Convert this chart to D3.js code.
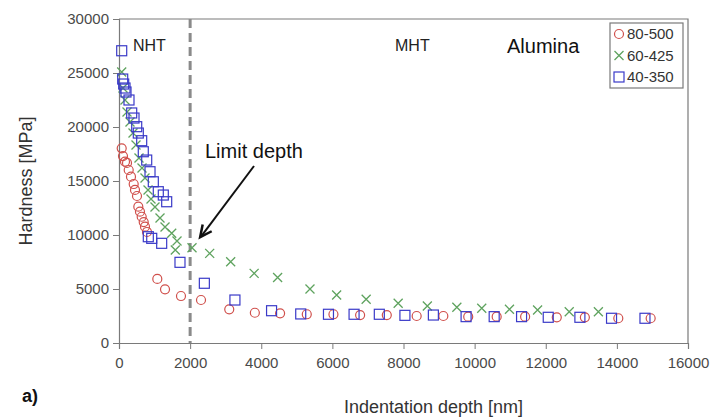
<!DOCTYPE html>
<html>
<head>
<meta charset="utf-8">
<script src="https://cdn.jsdelivr.net/npm/d3@7"></script>
<style>
  body { margin: 0; background: #fff; }
  svg text { font-family: "Liberation Sans", Arial, sans-serif; }
</style>
</head>
<body>
<div id="plot"></div>
<script>
// series 80-500 (circles)
var depth80 = [76, 112, 169, 225, 273, 337, 413, 450, 506, 543, 590, 638, 695, 731, 787,
  1077, 1294, 1743, 2306, 3100, 3820, 4530, 5280, 6030, 6780, 7530, 8370, 9120,
  9820, 10620, 11420, 12310, 13100, 14040, 14950];
var hard80 = [18030, 17310, 16790, 16670, 16020, 15400, 14720, 14170, 13610, 12620, 12160, 11690, 11200, 10770, 10280,
  5930, 4970, 4350, 3980, 3120, 2800, 2750, 2660, 2660, 2590, 2590, 2500, 2500,
  2440, 2440, 2440, 2380, 2380, 2290, 2290];

// series 60-425 (crosses)
var depth60 = [76, 112, 169, 225, 309, 394, 478, 562, 647, 731, 816, 900, 1012, 1153, 1294,
  1482, 1631, 1583, 2053, 2550, 3140, 3800, 4460, 5370, 6120, 6950, 7850, 8670,
  9500, 10200, 10980, 11770, 12660, 13480];
var hard60 = [25090, 23610, 22500, 21390, 20460, 19440, 18330, 17130, 16200, 15280, 14170, 13330, 12590, 11570, 10740,
  10160, 9440, 8610, 8820, 8300, 7530, 6450, 6060, 5000, 4440, 4050, 3680, 3430,
  3310, 3210, 3120, 3060, 2900, 2900];

// series 40-350 (squares)
var depth40 = [76, 104, 132, 169, 197, 281, 357, 422, 498, 543, 638, 683, 779, 872, 965, 1105, 1246, 1341,
  824, 920, 1200, 1715, 2400, 3260, 4290, 5110, 5890, 6610, 7320, 8040, 8840,
  9760, 10550, 11320, 12070, 12960, 13850, 14790];
var hard40 = [27060, 24440, 23980, 23610, 23240, 22500, 21300, 20830, 20030, 19440, 18730, 17710, 16940, 15860, 14930, 14010, 13700, 13080,
  9840, 9690, 9230, 7470, 5530, 3980, 2990, 2690, 2660, 2660, 2660, 2560, 2590,
  2440, 2440, 2440, 2380, 2380, 2290, 2290];

var seriesNames = ["80-500", "60-425", "40-350"];
var xTicks = [0, 2000, 4000, 6000, 8000, 10000, 12000, 14000, 16000];
var yTicks = [0, 5000, 10000, 15000, 20000, 25000, 30000];
var limitDepth = 2000;

var margin = { left: 119, right: 28, top: 19, bottom: 76 };
var W = 716, H = 419;
var w = W - margin.left - margin.right;
var h = H - margin.top - margin.bottom;

var x = d3.scaleLinear().domain([0, 16000]).range([0, w]);
var y = d3.scaleLinear().domain([0, 30000]).range([h, 0]);

var svg = d3.select("#plot").append("svg")
  .attr("width", W).attr("height", H);
var g = svg.append("g")
  .attr("transform", "translate(" + margin.left + "," + margin.top + ")");

var axisCol = "#7a7a7a";

// frame top + right
g.append("path")
  .attr("d", "M0,0H" + w + "V" + h)
  .attr("fill", "none").attr("stroke", axisCol).attr("stroke-width", 1.2);

// X axis
var xa = g.append("g").attr("transform", "translate(0," + h + ")")
  .call(d3.axisBottom(x).tickValues(xTicks).tickSize(6).tickPadding(8).tickFormat(d3.format("d")));
// Y axis
var ya = g.append("g")
  .call(d3.axisLeft(y).tickValues(yTicks).tickSize(6).tickPadding(4).tickFormat(d3.format("d")));

[xa, ya].forEach(function(a) {
  a.select(".domain").attr("stroke", axisCol).attr("stroke-width", 1.2);
  a.selectAll(".tick line").attr("stroke", axisCol);
  a.selectAll(".tick text").attr("fill", "#4a4a4a").style("font-size", "15px");
});

// limit depth dashed line
g.append("line")
  .attr("x1", x(limitDepth)).attr("x2", x(limitDepth))
  .attr("y1", 0).attr("y2", h)
  .attr("stroke", "#8a8a8a").attr("stroke-width", 3)
  .attr("stroke-dasharray", "9,5");

// markers
var red = "#d0504c", green = "#5fa35f", blue = "#3a3ac8";

g.selectAll(".c80").data(d3.range(depth80.length)).enter().append("circle")
  .attr("cx", function(i) { return x(depth80[i]); })
  .attr("cy", function(i) { return y(hard80[i]); })
  .attr("r", 4.5).attr("fill", "none").attr("stroke", red).attr("stroke-width", 1.2);

g.selectAll(".c60").data(d3.range(depth60.length)).enter().append("path")
  .attr("transform", function(i) { return "translate(" + x(depth60[i]) + "," + y(hard60[i]) + ")"; })
  .attr("d", "M-4.5,-4.5L4.5,4.5M-4.5,4.5L4.5,-4.5")
  .attr("stroke", green).attr("stroke-width", 1.3).attr("fill", "none");

g.selectAll(".c40").data(d3.range(depth40.length)).enter().append("rect")
  .attr("x", function(i) { return x(depth40[i]) - 5; })
  .attr("y", function(i) { return y(hard40[i]) - 5; })
  .attr("width", 10).attr("height", 10)
  .attr("fill", "none").attr("stroke", blue).attr("stroke-width", 1.2);

// region labels
g.append("text").attr("x", 14).attr("y", 32).text("NHT")
  .style("font-size", "16px").attr("fill", "#222");
g.append("text").attr("x", 276).attr("y", 32).text("MHT")
  .style("font-size", "16px").attr("fill", "#222");
g.append("text").attr("x", 388).attr("y", 34).text("Alumina")
  .style("font-size", "20px").attr("fill", "#111");

// limit depth annotation
g.append("text").attr("x", 86).attr("y", 139).text("Limit depth")
  .style("font-size", "20px").attr("fill", "#111");
var tipX = x(limitDepth) + 10, tipY = y(9800);
var sx = 135, sy = 147;
g.append("line").attr("x1", sx).attr("y1", sy).attr("x2", tipX + 2).attr("y2", tipY - 2)
  .attr("stroke", "#111").attr("stroke-width", 2);
var ang = Math.atan2(tipY - sy, tipX - sx);
var hl = 13, ha = 0.45;
g.append("path")
  .attr("d", "M" + (tipX - hl * Math.cos(ang - ha)) + "," + (tipY - hl * Math.sin(ang - ha)) +
    "L" + tipX + "," + tipY +
    "L" + (tipX - hl * Math.cos(ang + ha)) + "," + (tipY - hl * Math.sin(ang + ha)))
  .attr("fill", "none").attr("stroke", "#111").attr("stroke-width", 2.5);

// legend
var lg = svg.append("g").attr("transform", "translate(610,23)");
lg.append("rect").attr("width", 73).attr("height", 65)
  .attr("fill", "#fff").attr("stroke", axisCol).attr("stroke-width", 1.2);
seriesNames.forEach(function(name, i) {
  var cy = 11 + i * 21.5;
  if (i === 0) {
    lg.append("circle").attr("cx", 9).attr("cy", cy).attr("r", 4.5)
      .attr("fill", "none").attr("stroke", red).attr("stroke-width", 1.2);
  } else if (i === 1) {
    lg.append("path").attr("transform", "translate(9," + cy + ")")
      .attr("d", "M-4.5,-4.5L4.5,4.5M-4.5,4.5L4.5,-4.5")
      .attr("stroke", green).attr("stroke-width", 1.3);
  } else {
    lg.append("rect").attr("x", 4).attr("y", cy - 5).attr("width", 10).attr("height", 10)
      .attr("fill", "none").attr("stroke", blue).attr("stroke-width", 1.2);
  }
  lg.append("text").attr("x", 17).attr("y", cy + 5).text(name)
    .style("font-size", "15px").attr("fill", "#333");
});

// axis titles
svg.append("text").attr("x", margin.left + w / 2 + 30).attr("y", 413)
  .attr("text-anchor", "middle").text("Indentation depth [nm]")
  .style("font-size", "18px").attr("fill", "#333");
svg.append("text")
  .attr("transform", "translate(32," + (margin.top + h / 2) + ") rotate(-90)")
  .attr("text-anchor", "middle").text("Hardness [MPa]")
  .style("font-size", "18px").attr("fill", "#333");

svg.append("text").attr("x", 22).attr("y", 402).text("a)")
  .style("font-size", "18px").style("font-weight", "bold").attr("fill", "#111");
</script>
</body>
</html>
